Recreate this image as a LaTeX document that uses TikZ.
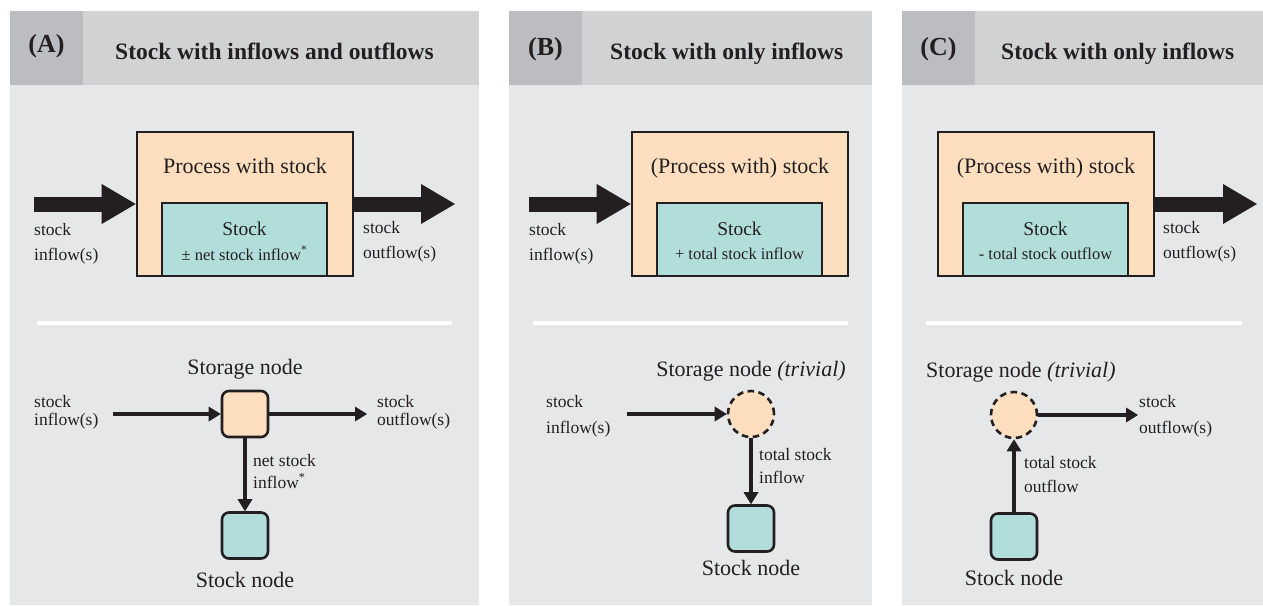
\documentclass[tikz,border=0pt]{standalone}
\usepackage{fontspec}
\setmainfont{Liberation Serif}
\usetikzlibrary{arrows.meta}
\definecolor{panelbg}{HTML}{E6E7E8}
\definecolor{headbg}{HTML}{D1D2D4}
\definecolor{labbg}{HTML}{BCBDC0}
\definecolor{ink}{HTML}{231F20}
\definecolor{peach}{HTML}{FDDFC0}
\definecolor{teal}{HTML}{B1DEDA}
\tikzset{
  lettertext/.style={font=\fontsize{26}{28}\selectfont\bfseries, text=ink, inner sep=0pt, anchor=base},
  titletext/.style={font=\fontsize{23.5}{26}\selectfont\bfseries, text=ink, inner sep=0pt, anchor=base west},
  proctext/.style={font=\fontsize{22}{24}\selectfont, text=ink, inner sep=0pt, anchor=base},
  stocktext/.style={font=\fontsize{19.5}{22}\selectfont, text=ink, inner sep=0pt, anchor=base},
  subtext/.style={font=\fontsize{16.5}{18}\selectfont, text=ink, inner sep=0pt, anchor=base},
  lab/.style={font=\fontsize{17.5}{19}\selectfont, text=ink, inner sep=0pt, anchor=base west},
  nodetitle/.style={font=\fontsize{22}{24}\selectfont, text=ink, inner sep=0pt, anchor=base},
  procbox/.style={draw=ink, line width=2.6pt, fill=peach, minimum width=216pt, minimum height=144pt, inner sep=0pt},
  stockbox/.style={draw=ink, line width=2.6pt, fill=teal, minimum width=165pt, minimum height=73pt, inner sep=0pt},
  storsq/.style={draw=ink, line width=2.6pt, fill=peach, rounded corners=7pt, minimum size=46pt, inner sep=0pt},
  stocksq/.style={draw=ink, line width=2.6pt, fill=teal, rounded corners=7pt, minimum size=46pt, inner sep=0pt},
  trivcirc/.style={circle, draw=ink, line width=2.6pt, dash pattern=on 6.5pt off 4.5pt, fill=peach, minimum size=46pt, inner sep=0pt},
  bigflow/.style={draw=ink, line width=15pt, -{Triangle[length=34pt,width=40pt,line width=0pt]}},
  flow/.style={draw=ink, line width=4.5pt, -{Triangle[length=12pt,width=15pt,line width=0pt]}},
  sepline/.style={draw=white, line width=4pt}
}
\begin{document}
\begin{tikzpicture}[x=1pt,y=-1pt]
\useasboundingbox (0,0) rectangle (1263,605);
\fill[white] (0,0) rectangle (1263,605);
% panels
\fill[panelbg] (10,11) rectangle (479,605);
\fill[headbg] (10,11) rectangle (479,85);
\fill[labbg] (10,11) rectangle (83,85);
\fill[panelbg] (509,11) rectangle (872,605);
\fill[headbg] (509,11) rectangle (872,85);
\fill[labbg] (509,11) rectangle (582,85);
\fill[panelbg] (902,11) rectangle (1263,605);
\fill[headbg] (902,11) rectangle (1263,85);
\fill[labbg] (902,11) rectangle (975,85);
% headers
\node[lettertext] (letA) at (46.5,52) {(A)};
\node[titletext] (titA) at (115,59) {Stock with inflows and outflows};
\node[lettertext] (letB) at (545.5,55) {(B)};
\node[titletext] (titB) at (610,59) {Stock with only inflows};
\node[lettertext] (letC) at (938.5,55) {(C)};
\node[titletext] (titC) at (1001,59) {Stock with only inflows};
% separators
\draw[sepline] (37,323) -- (452,323);
\draw[sepline] (533,323) -- (848,323);
\draw[sepline] (926,323) -- (1242,323);

% ===== Panel A upper =====
\node[procbox] (procA) at (245,204) {};
\node[stockbox] (stockA) at (244.5,239.5) {};
\node[proctext] (procAt) at (245,173) {Process with stock};
\node[stocktext] (stockAt) at (244.5,235) {Stock};
\node[subtext] (stockAs) at (244.5,260) {± net stock inflow\textsuperscript{*}};
\coordinate (ainA) at (34,204);
\coordinate (aoutA) at (455,204);
\draw[bigflow] (ainA) -- (procA.west);
\draw[bigflow] (procA.east) -- (aoutA);
\node[lab] (ainA1) at (34,235) {stock};
\node[lab] (ainA2) at (34,260) {inflow(s)};
\node[lab] (aoutA1) at (363,233) {stock};
\node[lab] (aoutA2) at (363,258) {outflow(s)};
% ===== Panel A lower =====
\node[storsq] (sA) at (245,414) {};
\node[stocksq] (kA) at (245,535.5) {};
\node[nodetitle] (sAt) at (245,374) {Storage node};
\node[nodetitle] (kAt) at (245,587) {Stock node};
\coordinate (inA) at (113,414);
\coordinate (outA) at (367,414);
\draw[flow] (inA) -- (sA.west);
\draw[flow] (sA.east) -- (outA);
\draw[flow] (sA.south) -- (kA.north);
\node[lab] (inA1) at (34,407) {stock};
\node[lab] (inA2) at (34,425) {inflow(s)};
\node[lab] (outA1) at (377,407) {stock};
\node[lab] (outA2) at (377,425) {outflow(s)};
\node[lab] (netA1) at (253,466) {net stock};
\node[lab] (netA2) at (253,488) {inflow\textsuperscript{*}};

% ===== Panel B upper =====
\node[procbox] (procB) at (740,204) {};
\node[stockbox] (stockB) at (739.5,239.5) {};
\node[proctext] (procBt) at (740,173) {(Process with) stock};
\node[stocktext] (stockBt) at (739.5,235) {Stock};
\node[subtext] (stockBs) at (739.5,259) {+ total stock inflow};
\coordinate (ainB) at (529,204);
\draw[bigflow] (ainB) -- (procB.west);
\node[lab] (ainB1) at (529,235) {stock};
\node[lab] (ainB2) at (529,260) {inflow(s)};
% ===== Panel B lower =====
\node[trivcirc] (cB) at (751,414) {};
\node[stocksq] (kB) at (751,528.5) {};
\node[nodetitle] (cBt) at (751,376) {Storage node \textit{(trivial)}};
\node[nodetitle] (kBt) at (751,575) {Stock node};
\coordinate (inB) at (627,414);
\draw[flow] (inB) -- (cB.west);
\draw[flow] (cB.south) -- (kB.north);
\node[lab] (inB1) at (546,407) {stock};
\node[lab] (inB2) at (546,433) {inflow(s)};
\node[lab] (totB1) at (759,460) {total stock};
\node[lab] (totB2) at (759,483) {inflow};

% ===== Panel C upper =====
\node[procbox] (procC) at (1046,204) {};
\node[stockbox] (stockC) at (1045.5,239.5) {};
\node[proctext] (procCt) at (1046,173) {(Process with) stock};
\node[stocktext] (stockCt) at (1045.5,235) {Stock};
\node[subtext] (stockCs) at (1045.5,259) {- total stock outflow};
\coordinate (aoutC) at (1257,204);
\draw[bigflow] (procC.east) -- (aoutC);
\node[lab] (aoutC1) at (1163,233) {stock};
\node[lab] (aoutC2) at (1163,258) {outflow(s)};
% ===== Panel C lower =====
\node[trivcirc] (cC) at (1014,415) {};
\node[stocksq] (kC) at (1014,536.5) {};
\node[nodetitle, anchor=base west] (cCt) at (926,377) {Storage node \textit{(trivial)}};
\node[nodetitle] (kCt) at (1014,585) {Stock node};
\coordinate (outC) at (1138,415);
\draw[flow] (cC.east) -- (outC);
\draw[flow] (kC.north) -- (cC.south);
\node[lab] (outC1) at (1139,407) {stock};
\node[lab] (outC2) at (1139,433) {outflow(s)};
\node[lab] (totC1) at (1024,468) {total stock};
\node[lab] (totC2) at (1024,492) {outflow};
\end{tikzpicture}
\end{document}
